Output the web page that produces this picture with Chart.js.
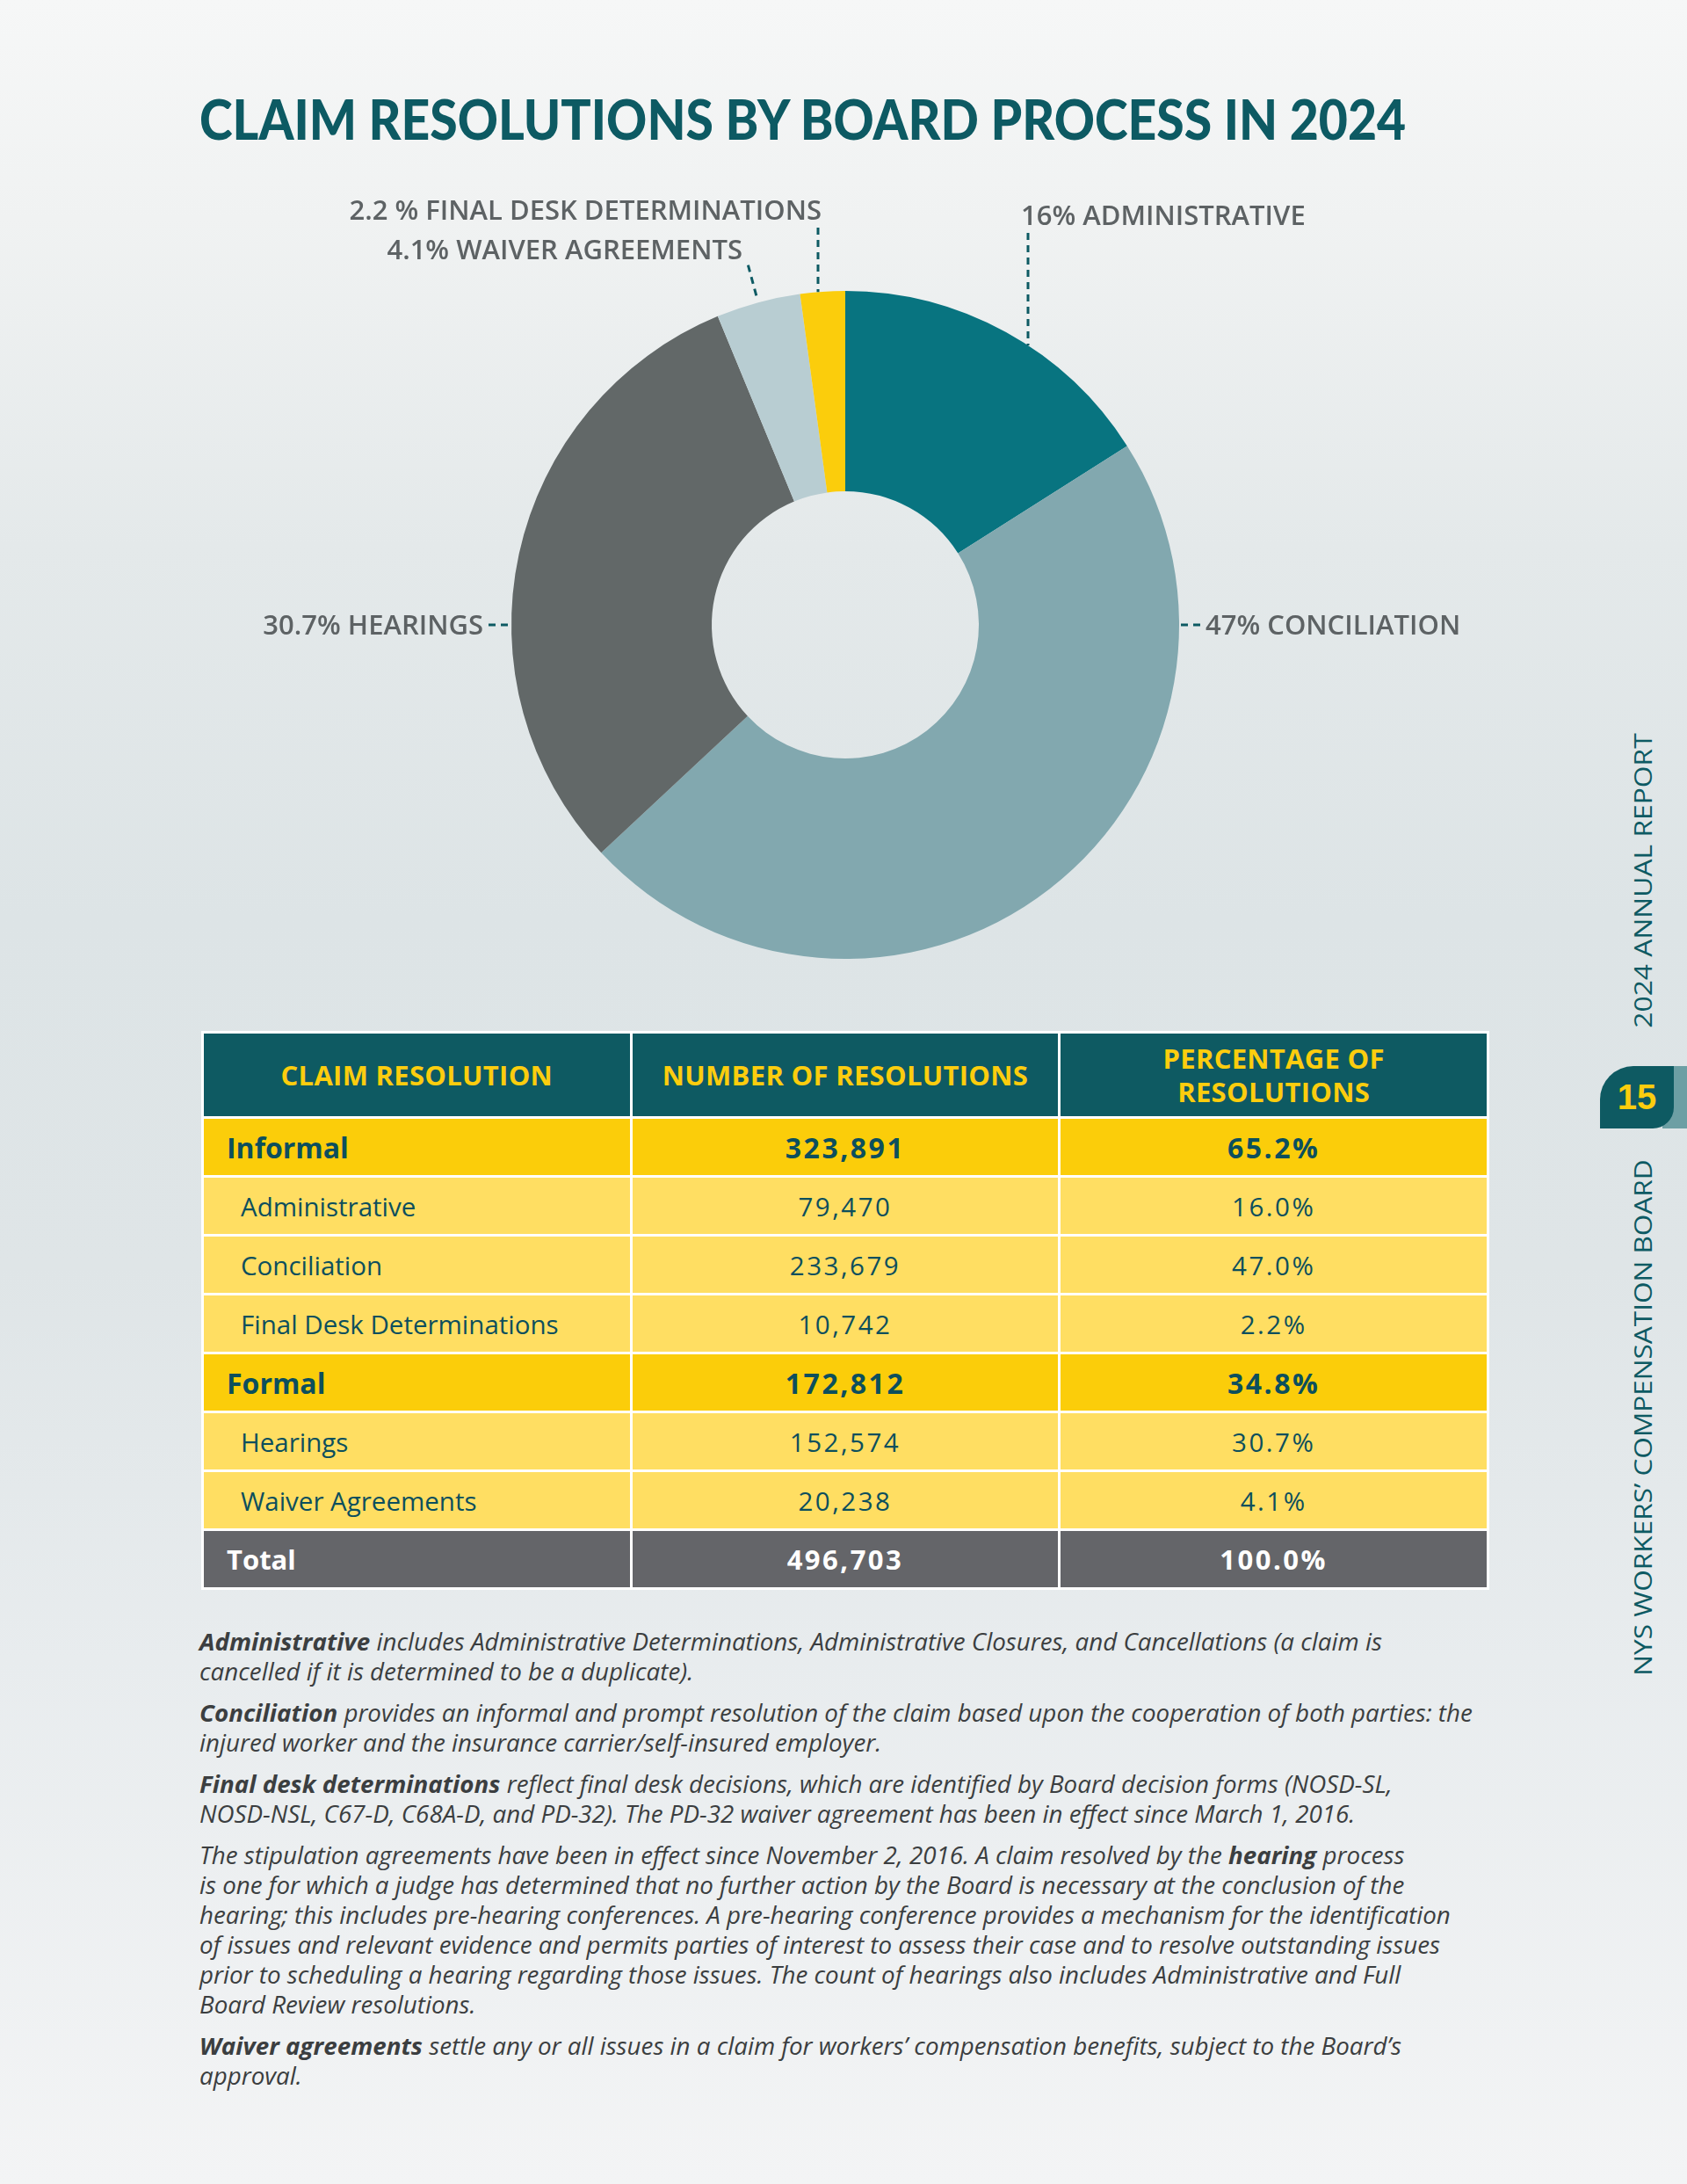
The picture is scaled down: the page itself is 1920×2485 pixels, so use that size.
<!DOCTYPE html>
<html>
<head>
<meta charset="utf-8">
<script src="https://cdn.jsdelivr.net/npm/chart.js@4.4.1/dist/chart.umd.min.js"></script>
<style>
  html, body { margin: 0; padding: 0; }
  body {
    width: 1920px; height: 2485px; position: relative; overflow: hidden;
    font-family: "Open Sans", sans-serif;
    background: linear-gradient(to bottom, #f6f7f7 0%, #f0f2f2 10%, #e4e9ea 25%, #dde4e6 42%, #dfe5e7 58%, #e8ecee 76%, #f3f4f5 100%);
  }
  #title {
    position: absolute; left: 227px; top: 104px;
    font-family: Lato, sans-serif; font-weight: 900; font-size: 62px; line-height: 1;
    color: #0d5a63; white-space: nowrap; transform-origin: left top;
  }
  #chartBox { position: absolute; left: 200px; top: 200px; width: 1520px; height: 950px; }
  #resTable {
    position: absolute; left: 229px; top: 1173px; width: 1466px;
    border-collapse: collapse; table-layout: fixed;
  }
  #resTable th, #resTable td { border: 3px solid #fff; padding: 0; }
  #resTable th {
    background: #0e5a62; color: #fccd0e; font-weight: 700; font-size: 31px; letter-spacing: 0.3px;
    line-height: 38px; height: 94px; text-align: center;
  }
  #resTable td { height: 64px; text-align: center; color: #0c4f5d; }
  #resTable td:first-child { text-align: left; }
  #resTable td.num { letter-spacing: 2.5px; }
  #resTable tr.group td { background: #fbcd0a; font-weight: 700; font-size: 32px; }
  #resTable tr.group td:first-child { padding-left: 26px; }
  #resTable tr.sub td { background: #ffde62; font-size: 29.5px; }
  #resTable tr.sub td:first-child { padding-left: 42px; }
  #resTable tr.total td { background: #646569; color: #fff; font-weight: 700; font-size: 31px; }
  #resTable tr.total td:first-child { padding-left: 26px; }
  #notes {
    position: absolute; left: 227px; top: 1851px;
    font-style: italic; font-size: 26.5px; line-height: 34px; color: #3b3e40; white-space: nowrap;
    transform-origin: left top;
  }
  #notes p { margin: 0 0 13px 0; }
  #notes b { font-weight: 700; }
  .side {
    position: absolute; white-space: nowrap; font-size: 28px; line-height: 1;
    color: #0d5a63; transform-origin: center;
  }
  #tabStrip { position: absolute; left: 1892px; top: 1213px; width: 28px; height: 71px; background: #6d9fa4; }
  #tab {
    position: absolute; left: 1821px; top: 1213px; width: 84px; height: 71px; background: #0e5a62;
    border-radius: 38px 0 24px 0; color: #fccd0e; font-family: "Liberation Sans", Arial, sans-serif;
    font-weight: 700; font-size: 40px; line-height: 71px; text-align: center;
  }
</style>
</head>
<body>
<div id="title">CLAIM RESOLUTIONS BY BOARD PROCESS IN 2024</div>
<div id="chartBox"><canvas id="donut"></canvas></div>
<table id="resTable"></table>
<div id="notes">
  <p><b>Administrative</b> includes Administrative Determinations, Administrative Closures, and Cancellations (a claim is<br>cancelled if it is determined to be a duplicate).</p>
  <p><b>Conciliation</b> provides an informal and prompt resolution of the claim based upon the cooperation of both parties: the<br>injured worker and the insurance carrier/self-insured employer.</p>
  <p><b>Final desk determinations</b> reflect final desk decisions, which are identified by Board decision forms (NOSD-SL,<br>NOSD-NSL, C67-D, C68A-D, and PD-32). The PD-32 waiver agreement has been in effect since March 1, 2016.</p>
  <p>The stipulation agreements have been in effect since November 2, 2016. A claim resolved by the <b>hearing</b> process<br>is one for which a judge has determined that no further action by the Board is necessary at the conclusion of the<br>hearing; this includes pre-hearing conferences. A pre-hearing conference provides a mechanism for the identification<br>of issues and relevant evidence and permits parties of interest to assess their case and to resolve outstanding issues<br>prior to scheduling a hearing regarding those issues. The count of hearings also includes Administrative and Full<br>Board Review resolutions.</p>
  <p><b>Waiver agreements</b> settle any or all issues in a claim for workers’ compensation benefits, subject to the Board’s<br>approval.</p>
</div>
<div id="tabStrip"></div>
<div id="tab">15</div>
<script>
const categories = ["Administrative", "Conciliation", "Hearings", "Waiver Agreements", "Final Desk Determinations"];
const resolutions = [79470, 233679, 152574, 20238, 10742];
const percentages = [16.0, 47.0, 30.7, 4.1, 2.2];
const sliceLabels = ["16% ADMINISTRATIVE", "47% CONCILIATION", "30.7% HEARINGS", "4.1% WAIVER AGREEMENTS", "2.2 % FINAL DESK DETERMINATIONS"];
const tableHeaders = ["CLAIM RESOLUTION", "NUMBER OF RESOLUTIONS", "PERCENTAGE OF<br>RESOLUTIONS"];
const groupNames = ["Informal", "Formal"];
const groupMembers = [[0, 1, 4], [2, 3]];

const sliceColors = ["#087480", "#82a8af", "#626868", "#b8cdd2", "#fbcd0c"];

// Fit the title and the notes to the widths they have on the page
const title = document.getElementById("title");
title.style.transform = `scaleX(${1373 / title.offsetWidth})`;
const notes = document.getElementById("notes");
notes.style.transform = `scaleX(${1449 / notes.offsetWidth})`;

// Vertical running heads on the right edge
function sideText(text, cx, cy, len) {
  const d = document.createElement("div");
  d.className = "side";
  d.textContent = text;
  document.body.appendChild(d);
  const w = d.offsetWidth, h = d.offsetHeight;
  d.style.left = (cx - w / 2) + "px";
  d.style.top = (cy - h / 2) + "px";
  d.style.transform = `rotate(-90deg) scaleX(${len / w})`;
}
sideText("2024 ANNUAL REPORT", 1868, 1002, 335);
sideText("NYS WORKERS’ COMPENSATION BOARD", 1868, 1613, 587);

// Table
const fmt = (n) => n.toLocaleString("en-US");
const row = (cls, name, n, pct) =>
  `<tr class="${cls}"><td>${name}</td><td class="num">${fmt(n)}</td><td class="num">${pct.toFixed(1)}%</td></tr>`;
const table = document.getElementById("resTable");
let html = "<tr>" + tableHeaders.map((h) => `<th>${h}</th>`).join("") + "</tr>";
let grand = 0, grandPct = 0;
groupNames.forEach((g, gi) => {
  const sum = groupMembers[gi].reduce((a, i) => a + resolutions[i], 0);
  const pct = groupMembers[gi].reduce((a, i) => a + percentages[i], 0);
  grand += sum; grandPct += pct;
  html += row("group", g, sum, pct);
  groupMembers[gi].forEach((i) => {
    html += row("sub", categories[i], resolutions[i], percentages[i]);
  });
});
html += row("total", "Total", grand, grandPct);
table.innerHTML = html;

// Callout placement relative to the doughnut centre (cx, cy) and outer radius r
const callouts = [
  { kind: "vertical", dx: 208, lineTop: -446, tx: 200, ty: -455, align: "left" },
  { kind: "right" },
  { kind: "left" },
  { kind: "radial", tx: -117, ty: -416, align: "right" },
  { kind: "vertical", dx: -31, lineTop: -452, tx: -27, ty: -461, align: "right" },
];

const calloutPlugin = {
  id: "callouts",
  afterDraw(chart) {
    const ctx = chart.ctx;
    const arcs = chart.getDatasetMeta(0).data;
    const cx = arcs[0].x, cy = arcs[0].y, r = arcs[0].outerRadius;
    ctx.save();
    ctx.font = '600 31px "Open Sans"';
    ctx.fillStyle = "#5d6264";
    ctx.strokeStyle = "#0d5a63";
    ctx.lineWidth = 3;
    ctx.setLineDash([8, 6]);

    const line = (x1, y1, x2, y2) => {
      ctx.beginPath();
      ctx.moveTo(x1, y1);
      ctx.lineTo(x2, y2);
      ctx.stroke();
    };

    callouts.forEach((c, i) => {
      const label = sliceLabels[i];
      if (c.kind === "vertical") {
        const x = cx + c.dx;
        const yEdge = cy - Math.sqrt(r * r - c.dx * c.dx);
        line(x, cy + c.lineTop, x, yEdge);
        ctx.textAlign = c.align;
        ctx.fillText(label, cx + c.tx, cy + c.ty);
      } else if (c.kind === "radial") {
        const a = (arcs[i].startAngle + arcs[i].endAngle) / 2;
        line(cx + Math.cos(a) * (r + 44), cy + Math.sin(a) * (r + 44),
             cx + Math.cos(a) * (r + 2), cy + Math.sin(a) * (r + 2));
        ctx.textAlign = c.align;
        ctx.fillText(label, cx + c.tx, cy + c.ty);
      } else if (c.kind === "left") {
        line(cx - r - 26, cy, cx - r - 2, cy);
        ctx.textAlign = "right";
        ctx.fillText(label, cx - r - 32, cy + 11);
      } else if (c.kind === "right") {
        line(cx + r + 2, cy, cx + r + 26, cy);
        ctx.textAlign = "left";
        ctx.fillText(label, cx + r + 30, cy + 11);
      }
    });
    ctx.restore();
  },
};

new Chart(document.getElementById("donut").getContext("2d"), {
  type: "doughnut",
  data: {
    labels: categories,
    datasets: [
      {
        data: resolutions,
        backgroundColor: sliceColors,
        borderWidth: 0,
        hoverOffset: 0,
      },
    ],
  },
  options: {
    responsive: true,
    maintainAspectRatio: false,
    animation: false,
    cutout: "40%",
    layout: { padding: { left: 382, right: 378, top: 131, bottom: 59 } },
    plugins: {
      legend: { display: false },
      tooltip: { enabled: false },
    },
  },
  plugins: [calloutPlugin],
});
</script>
</body>
</html>
